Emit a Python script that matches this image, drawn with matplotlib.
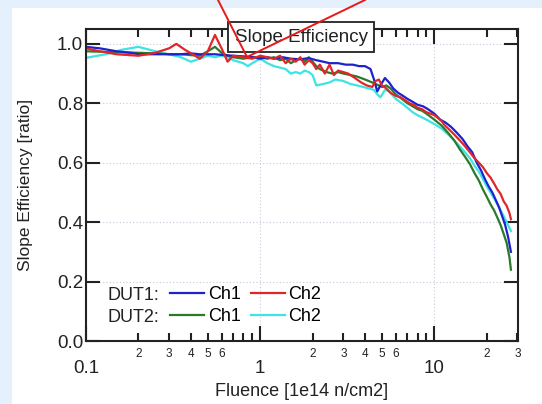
import matplotlib.pyplot as plt
import matplotlib.ticker as mticker
import numpy as np

###############################################################################

plt.rcParams.update({
    "font.size": 13,
    "font.family": "sans-serif",
    "font.sans-serif": ["Liberation Sans", "DejaVu Sans"],
})

BLUE = "#1f22cc"
RED = "#e0262a"
GREEN = "#2b7a2b"
CYAN = "#3ee3e3"
INK = "#222222"
BG = "#e4f0fb"

###############################################################################

dut1_ch1_x = [0.1, 0.12, 0.15, 0.18, 0.2, 0.25, 0.3, 0.35, 0.4, 0.45, 0.5,
              0.55, 0.6, 0.7, 0.8, 0.9, 1.0, 1.1, 1.2, 1.35, 1.5, 1.7, 1.9,
              2.1, 2.3, 2.5, 2.8, 3.1, 3.4, 3.7, 4.0, 4.3, 4.5, 4.7, 4.9,
              5.2, 5.5, 5.8, 6.2, 6.6, 7.0, 7.5, 8.0, 8.6, 9.2, 10, 10.8,
              11.6, 12.5, 13.5, 14.5, 15.5, 16.5, 17.5, 18.5, 19.5, 20.5,
              21.5, 22.5, 23.5, 24.5, 25.5, 26.5, 27.5]
dut1_ch1_y = [0.99, 0.985, 0.975, 0.97, 0.965, 0.965, 0.965, 0.965, 0.968,
              0.965, 0.965, 0.965, 0.963, 0.96, 0.958, 0.955, 0.95, 0.955,
              0.95, 0.955, 0.95, 0.948, 0.952, 0.945, 0.94, 0.935, 0.935,
              0.93, 0.93, 0.925, 0.925, 0.915, 0.88, 0.84, 0.86, 0.885, 0.87,
              0.85, 0.835, 0.825, 0.815, 0.805, 0.795, 0.79, 0.78, 0.765,
              0.745, 0.735, 0.72, 0.70, 0.68, 0.655, 0.635, 0.60, 0.575,
              0.545, 0.52, 0.50, 0.475, 0.45, 0.42, 0.39, 0.35, 0.30]

dut1_ch2_x = [0.1, 0.12, 0.15, 0.2, 0.25, 0.3, 0.33, 0.37, 0.41, 0.45, 0.5,
              0.55, 0.6, 0.65, 0.7, 0.8, 0.9, 1.0, 1.1, 1.2, 1.3, 1.4, 1.5,
              1.6, 1.7, 1.8, 1.9, 2.0, 2.1, 2.2, 2.35, 2.5, 2.65, 2.8, 3.0,
              3.2, 3.5, 3.8, 4.1, 4.4, 4.6, 4.8, 5.0, 5.3, 5.6, 6.0, 6.4,
              6.8, 7.2, 7.6, 8.0, 8.5, 9.0, 9.5, 10, 10.5, 11, 11.5, 12, 13,
              14, 15, 16, 17, 18, 19, 20, 21, 22, 23, 24, 25, 26, 27, 27.5]
dut1_ch2_y = [0.985, 0.975, 0.965, 0.96, 0.97, 0.985, 1.0, 0.98, 0.965,
              0.95, 0.975, 1.03, 0.985, 0.94, 0.96, 0.955, 0.95, 0.96, 0.955,
              0.95, 0.96, 0.935, 0.95, 0.94, 0.955, 0.93, 0.945, 0.935, 0.915,
              0.93, 0.90, 0.93, 0.895, 0.91, 0.905, 0.90, 0.885, 0.87, 0.86,
              0.855, 0.875, 0.88, 0.86, 0.85, 0.835, 0.825, 0.82, 0.81, 0.80,
              0.795, 0.785, 0.78, 0.77, 0.765, 0.76, 0.75, 0.74, 0.725, 0.715,
              0.695, 0.675, 0.655, 0.635, 0.615, 0.60, 0.585, 0.565, 0.55,
              0.53, 0.51, 0.495, 0.47, 0.455, 0.43, 0.41]

dut2_ch1_x = [0.1, 0.15, 0.2, 0.25, 0.3, 0.35, 0.4, 0.45, 0.5, 0.55, 0.6,
              0.65, 0.7, 0.8, 0.9, 1.0, 1.1, 1.2, 1.3, 1.4, 1.5, 1.6, 1.7,
              1.8, 1.9, 2.0, 2.1, 2.2, 2.4, 2.6, 2.8, 3.0, 3.3, 3.6, 4.0,
              4.4, 4.8, 5.0, 5.3, 5.6, 6.0, 6.5, 7.0, 7.5, 8.0, 8.5, 9, 10,
              11, 12, 13, 14, 15, 16, 17, 18, 19, 20, 21, 22, 23, 24, 25, 26,
              27, 27.5]
dut2_ch1_y = [0.975, 0.972, 0.97, 0.968, 0.965, 0.965, 0.962, 0.96, 0.975,
              0.99, 0.97, 0.96, 0.955, 0.95, 0.955, 0.955, 0.95, 0.955, 0.945,
              0.95, 0.935, 0.945, 0.95, 0.94, 0.955, 0.94, 0.925, 0.915, 0.905,
              0.90, 0.905, 0.90, 0.895, 0.89, 0.88, 0.87, 0.86, 0.855, 0.86,
              0.85, 0.83, 0.815, 0.80, 0.79, 0.78, 0.775, 0.765, 0.745, 0.725,
              0.70, 0.675, 0.645, 0.62, 0.595, 0.565, 0.54, 0.51, 0.485, 0.46,
              0.44, 0.415, 0.39, 0.36, 0.33, 0.28, 0.24]

dut2_ch2_x = [0.1, 0.13, 0.16, 0.2, 0.25, 0.3, 0.35, 0.4, 0.45, 0.5, 0.55,
              0.6, 0.65, 0.7, 0.8, 0.85, 0.9, 1.0, 1.1, 1.2, 1.3, 1.4, 1.5,
              1.6, 1.7, 1.8, 1.9, 2.0, 2.1, 2.3, 2.5, 2.7, 3.0, 3.3, 3.6, 3.9,
              4.2, 4.5, 4.7, 4.9, 5.2, 5.5, 6.0, 6.5, 7.0, 7.5, 8, 9, 10, 11,
              12, 13, 14, 15, 16, 17, 18, 19, 20, 21, 22, 23, 24, 25, 26, 27,
              27.5]
dut2_ch2_y = [0.953, 0.965, 0.98, 0.99, 0.975, 0.965, 0.955, 0.94, 0.95,
              0.96, 0.955, 0.96, 0.955, 0.945, 0.935, 0.925, 0.935, 0.95,
              0.935, 0.925, 0.92, 0.915, 0.9, 0.905, 0.9, 0.91, 0.905, 0.895,
              0.86, 0.865, 0.87, 0.88, 0.875, 0.865, 0.86, 0.855, 0.85, 0.845,
              0.83, 0.82, 0.845, 0.84, 0.815, 0.80, 0.785, 0.77, 0.76, 0.745,
              0.73, 0.715, 0.695, 0.675, 0.655, 0.635, 0.615, 0.59, 0.57,
              0.545, 0.52, 0.50, 0.48, 0.46, 0.44, 0.42, 0.40, 0.38, 0.37]

###############################################################################

fig = plt.figure(figsize=(5.42, 4.04), dpi=100, facecolor=BG)
fig.add_artist(plt.Rectangle((12/542, 0), 1, (404-8)/404,
                             transform=fig.transFigure, facecolor="white",
                             edgecolor="none", zorder=0))
ax = fig.add_axes([86/542, 63/404, 432/542, 312/404])
ax.set_facecolor("white")

l_b, = ax.plot(dut1_ch1_x, dut1_ch1_y, color=BLUE, lw=1.6, label="Ch1")
l_r, = ax.plot(dut1_ch2_x, dut1_ch2_y, color=RED, lw=1.6, label="Ch2")
l_g, = ax.plot(dut2_ch1_x, dut2_ch1_y, color=GREEN, lw=1.6, label="Ch1")
l_c, = ax.plot(dut2_ch2_x, dut2_ch2_y, color=CYAN, lw=1.6, label="Ch2")
# draw order like the original: cyan under, red on top
l_c.set_zorder(2.0)
l_g.set_zorder(2.1)
l_b.set_zorder(2.2)
l_r.set_zorder(2.3)

ax.set_xscale("log")
ax.set_xlim(0.1, 30.2)
ax.set_ylim(0.0, 1.05)

ax.xaxis.set_major_locator(mticker.FixedLocator([0.1, 1, 10]))
ax.xaxis.set_major_formatter(mticker.FixedFormatter(["0.1", "1", "10"]))
ax.xaxis.set_minor_locator(mticker.LogLocator(base=10, subs=np.arange(2, 10)))


def minor_label(v, pos):
    d = int(round(v / 10**np.floor(np.log10(v) + 1e-9)))
    return str(d) if 2 <= d <= 6 else ""


ax.xaxis.set_minor_formatter(mticker.FuncFormatter(minor_label))
ax.set_yticks(np.arange(0, 1.01, 0.2))
ax.yaxis.set_major_formatter(mticker.FormatStrFormatter("%.1f"))

ax.tick_params(which="both", direction="in", top=True, right=True,
               colors=INK, width=1.5)
ax.tick_params(axis="x", which="major", length=11, pad=14, labelsize=13.5)
ax.tick_params(axis="x", which="minor", length=6, pad=5, labelsize=8.5)
ax.tick_params(axis="y", which="major", length=10, pad=2, labelsize=13.5)
ax.tick_params(axis="y", which="minor", length=0)
for s in ax.spines.values():
    s.set_linewidth(1.5)
    s.set_color(INK)

ax.grid(True, which="major", linestyle=(0, (1, 2)), color="#c8c8dc", lw=0.8)

ax.set_xlabel("Fluence [1e14 n/cm2]", labelpad=4, color=INK, fontsize=13)
ax.set_ylabel("Slope Efficiency [ratio]", labelpad=17, color=INK,
              fontsize=12.5)

ax.text(0.498, 0.974, "Slope Efficiency", transform=ax.transAxes,
        ha="center", va="center", fontsize=13.5, color=INK, zorder=10,
        bbox=dict(boxstyle="square,pad=0.36", facecolor="white",
                  edgecolor=INK, linewidth=1.3))

leg = ax.legend(handles=[l_b, l_g, l_r, l_c], ncol=2, loc="upper left",
                bbox_to_anchor=(0.194, 0.176), frameon=False, borderpad=0,
                borderaxespad=0, handlelength=1.9, handletextpad=0.2,
                columnspacing=0.55, labelspacing=0.27, fontsize=13)
ax.text(0.049, 0.145, "DUT1:", transform=ax.transAxes, va="center",
        fontsize=13, color=INK)
ax.text(0.049, 0.074, "DUT2:", transform=ax.transAxes, va="center",
        fontsize=13, color=INK)

# red pointer lines drawn over the slide
fig.add_artist(plt.Line2D([218/542, 247/542, 365/542],
                          [1.0, 1 - 57/404, 1.0],
                          transform=fig.transFigure, color="#e81818",
                          lw=1.4, zorder=20))

fig.savefig("out.png", dpi=100, facecolor=fig.get_facecolor())
